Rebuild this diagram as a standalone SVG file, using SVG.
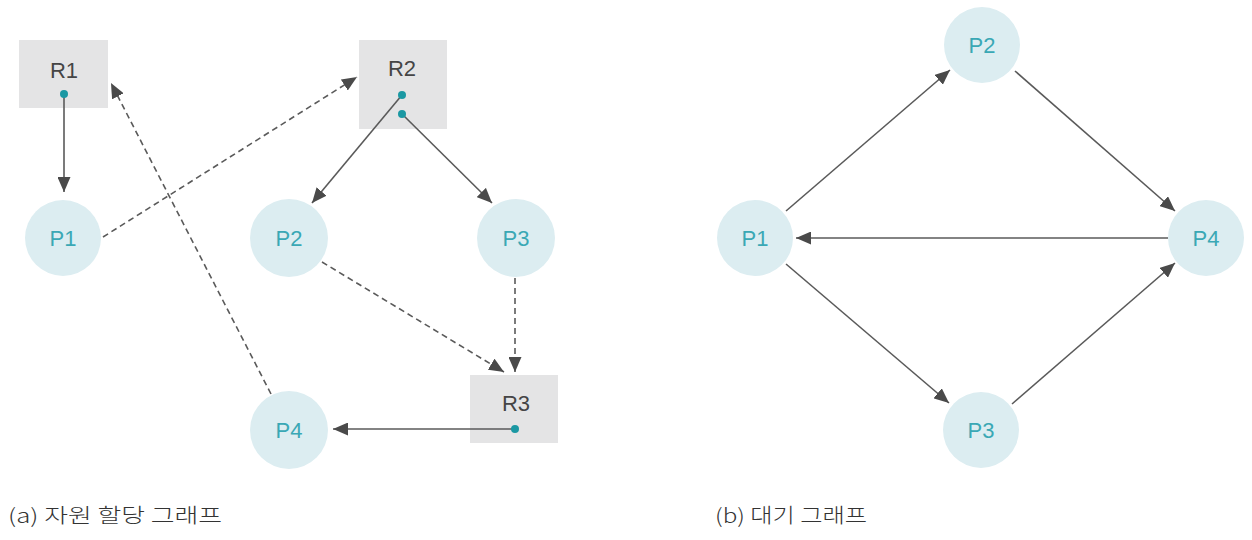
<svg xmlns="http://www.w3.org/2000/svg" width="1252" height="540" viewBox="0 0 1252 540">
<style>
.bg{fill:#ffffff}
.box{fill:#e4e4e5}
.proc{fill:#dcedf1}
.rl{font-family:"Liberation Sans",Arial,sans-serif;font-size:22px;fill:#454545;text-anchor:middle}
.pl{font-family:"Liberation Sans",Arial,sans-serif;font-size:22px;fill:#3aa8b5;text-anchor:middle}
.dot{fill:#1b98a3}
.edge{stroke:#5a5a5a;stroke-width:1.6;fill:none}
.dash{stroke-dasharray:6 4}
.cap{font-family:"Noto Sans CJK KR","Liberation Sans",sans-serif;font-size:20px;font-weight:300;fill:#333333}
</style>
<defs>
<marker id="ah" viewBox="0 0 15 13" refX="15" refY="6.5" markerWidth="15" markerHeight="13" markerUnits="userSpaceOnUse" orient="auto">
<path d="M0,0 L15,6.5 L0,13 Z" fill="#4a4a4a"/>
</marker>
</defs>
<rect class="bg" x="0" y="0" width="1252" height="540"/>

<g id="R1"><rect class="box" x="19" y="40" width="89" height="68"/><text class="rl" x="64" y="78">R1</text></g>
<g id="R2"><rect class="box" x="359" y="40" width="88" height="89"/><text class="rl" x="402" y="76">R2</text></g>
<g id="R3"><rect class="box" x="470" y="375" width="88" height="68"/><text class="rl" x="516" y="411">R3</text></g>
<g id="a-P1"><circle class="proc" cx="63" cy="238" r="38"/><text class="pl" x="63" y="246">P1</text></g>
<g id="a-P2"><circle class="proc" cx="289" cy="238" r="39"/><text class="pl" x="289" y="246">P2</text></g>
<g id="a-P3"><circle class="proc" cx="516" cy="238" r="39"/><text class="pl" x="516" y="246">P3</text></g>
<g id="a-P4"><circle class="proc" cx="289" cy="430" r="39"/><text class="pl" x="289" y="438">P4</text></g>

<g id="b-P1"><circle class="proc" cx="755" cy="238" r="38"/><text class="pl" x="755" y="246">P1</text></g>
<g id="b-P2"><circle class="proc" cx="982" cy="45" r="38"/><text class="pl" x="982" y="53">P2</text></g>
<g id="b-P3"><circle class="proc" cx="981" cy="430" r="38"/><text class="pl" x="981" y="438">P3</text></g>
<g id="b-P4"><circle class="proc" cx="1206" cy="238" r="38"/><text class="pl" x="1206" y="246">P4</text></g>

<g id="connectors">
<line class="edge" x1="64" y1="94" x2="64" y2="192" marker-end="url(#ah)"/>
<line class="edge dash" x1="103" y1="237" x2="357" y2="77" marker-end="url(#ah)"/>
<line class="edge dash" x1="271" y1="394" x2="111" y2="83" marker-end="url(#ah)"/>
<line class="edge" x1="402" y1="95" x2="312" y2="203" marker-end="url(#ah)"/>
<line class="edge" x1="402" y1="114" x2="492" y2="203" marker-end="url(#ah)"/>
<line class="edge dash" x1="322" y1="262" x2="504" y2="372" marker-end="url(#ah)"/>
<line class="edge dash" x1="515" y1="278" x2="515" y2="372" marker-end="url(#ah)"/>
<line class="edge" x1="515" y1="429" x2="333" y2="429" marker-end="url(#ah)"/>

<line class="edge" x1="786" y1="211" x2="950" y2="70" marker-end="url(#ah)"/>
<line class="edge" x1="1015" y1="71" x2="1175" y2="211" marker-end="url(#ah)"/>
<line class="edge" x1="1168" y1="238" x2="796" y2="238" marker-end="url(#ah)"/>
<line class="edge" x1="786" y1="264" x2="949" y2="403" marker-end="url(#ah)"/>
<line class="edge" x1="1012" y1="404" x2="1175" y2="263" marker-end="url(#ah)"/>
</g>
<g id="dots">
<circle class="dot" cx="64" cy="94" r="4"/>
<circle class="dot" cx="402" cy="95" r="4"/>
<circle class="dot" cx="402" cy="114" r="4"/>
<circle class="dot" cx="515" cy="429" r="4"/>
</g>

<g id="captions">
<text class="cap" x="8" y="523" textLength="214" lengthAdjust="spacingAndGlyphs">(a) 자원 할당 그래프</text>
<text class="cap" x="715" y="523" textLength="152" lengthAdjust="spacingAndGlyphs">(b) 대기 그래프</text>
</g>
</svg>
